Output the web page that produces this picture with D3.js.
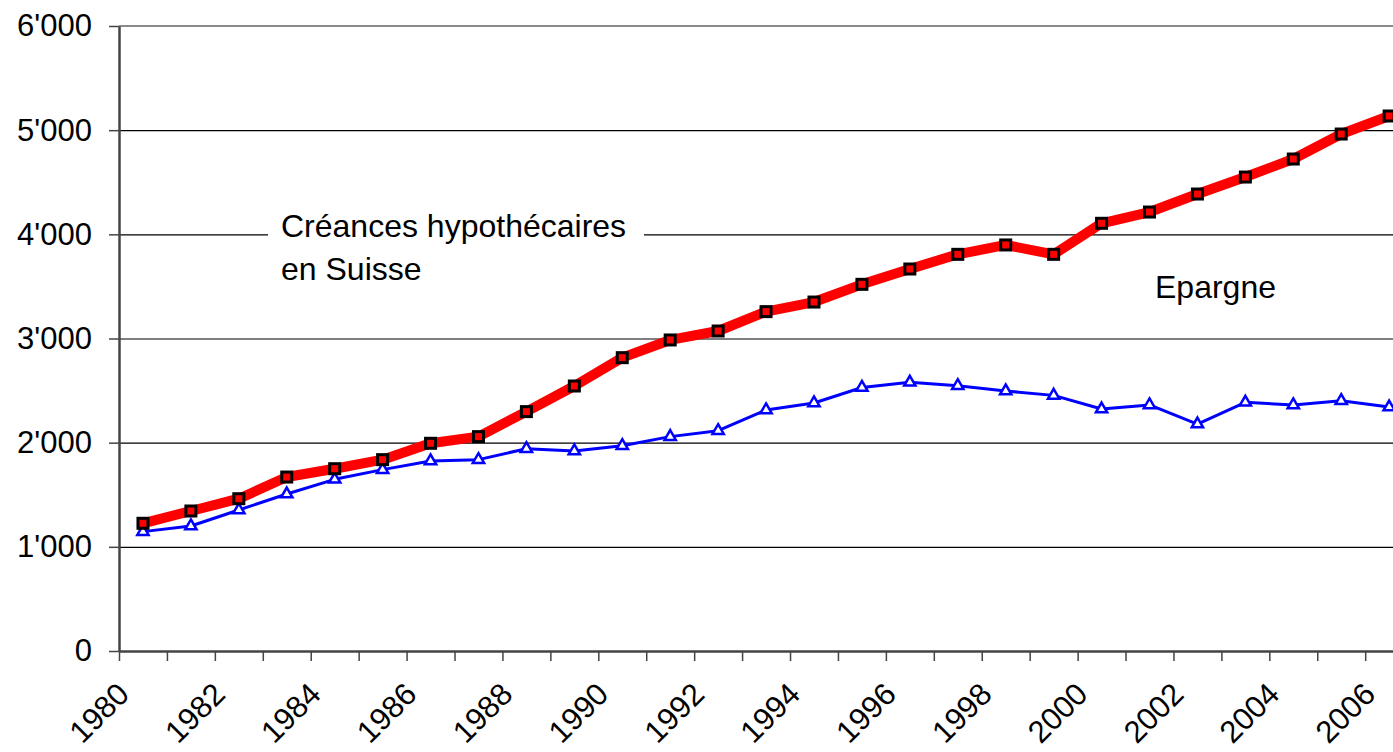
<!DOCTYPE html>
<html>
<head>
<meta charset="utf-8">
<script src="https://cdn.jsdelivr.net/npm/d3@7/dist/d3.min.js"></script>
<style>
  html, body { margin: 0; padding: 0; background: #fff; overflow: hidden; }
  svg { display: block; }
  text { font-family: "Liberation Sans", Arial, sans-serif; fill: #000; }
</style>
</head>
<body>
<svg id="chart" width="1393" height="752"></svg>
<script>
const years = [1980,1981,1982,1983,1984,1985,1986,1987,1988,1989,1990,1991,1992,1993,1994,1995,1996,1997,1998,1999,2000,2001,2002,2003,2004,2005,2006];
const creances = [1226,1344,1462,1670,1750,1837,1994,2058,2298,2544,2816,2986,3072,3258,3350,3520,3667,3808,3898,3808,4106,4214,4387,4550,4723,4963,5136];
const epargne = [1146,1200,1354,1507,1648,1741,1824,1837,1942,1920,1971,2058,2115,2314,2381,2530,2579,2547,2496,2454,2323,2362,2179,2387,2362,2403,2342];
const yTicks = [0,1000,2000,3000,4000,5000,6000];
const xLabelYears = [1980,1982,1984,1986,1988,1990,1992,1994,1996,1998,2000,2002,2004,2006];
const labelCreances = ["Créances hypothécaires", "en Suisse"];
const labelEpargne = "Epargne";

(function () {
const svg = d3.select("#chart");
const mLeft = 119, mTop = 26, mBottom = 651;
const band = 47.93;
const mRight = mLeft + band * years.length;

const x = d3.scaleBand().domain(years).range([mLeft, mRight]).padding(0);
const xEdge = d3.scaleLinear().domain([1980, 1980 + years.length]).range([mLeft, mRight]);
const y = d3.scaleLinear().domain([0, 6000]).range([mBottom, mTop]);
const cx = d => x(d) + x.bandwidth() / 2;

const fmt = d3.formatLocale({decimal: ".", thousands: "'", grouping: [3], currency: ["", ""]}).format(",");

// gridlines
const grid = svg.append("g").attr("transform", `translate(${mLeft},0)`)
  .call(d3.axisLeft(y).tickValues(yTicks.filter(v => v > 0 && v < 6000)).tickSize(-(mRight - mLeft)).tickFormat(""));
grid.select(".domain").remove();
grid.selectAll("line").attr("stroke", "#000").attr("stroke-width", 1.2);

// top border line
svg.append("line").attr("x1", mLeft).attr("x2", mRight).attr("y1", y(6000)).attr("y2", y(6000))
  .attr("stroke", "#8a8a8a").attr("stroke-width", 2);

// label background box for Créances (covers gridline)
svg.append("rect").attr("x", 268).attr("y", 205).attr("width", 376).attr("height", 88).attr("fill", "#fff");

// y axis
const yAxis = svg.append("g").attr("transform", `translate(${mLeft},0)`)
  .call(d3.axisLeft(y).tickValues(yTicks).tickFormat(fmt).tickSize(10).tickPadding(17).tickSizeOuter(0));
yAxis.select(".domain").attr("stroke", "#444").attr("stroke-width", 2.5);
yAxis.selectAll("line").attr("stroke", "#444").attr("stroke-width", 1.5);
yAxis.selectAll("text").style("font-size", "31px").style("font-family", "'Liberation Sans', Arial, sans-serif").attr("fill", "#000");

// x axis
const xAxis = svg.append("g").attr("transform", `translate(0,${mBottom})`)
  .call(d3.axisBottom(xEdge).tickValues(d3.range(1980, 1980 + years.length + 1)).tickFormat("").tickSize(10).tickSizeOuter(0));
xAxis.select(".domain").attr("stroke", "#444").attr("stroke-width", 2.5);
xAxis.selectAll("line").attr("stroke", "#444").attr("stroke-width", 1.5);

// x labels
svg.append("g").selectAll("text").data(xLabelYears).join("text")
  .attr("transform", d => `translate(${cx(d) - 12},${mBottom + 45}) rotate(-45)`)
  .attr("text-anchor", "end")
  .style("font-size", "31px")
  .text(d => d);

// Epargne line
const line = d3.line().x((d, i) => cx(years[i])).y(d => y(d));
svg.append("path").datum(epargne).attr("d", line)
  .attr("fill", "none").attr("stroke", "#0000ff").attr("stroke-width", 3).attr("stroke-linejoin", "round");
const tri = d3.symbol().type(d3.symbolTriangle).size(55);
svg.append("g").selectAll("path").data(epargne).join("path")
  .attr("d", tri)
  .attr("transform", (d, i) => `translate(${cx(years[i])},${y(d)})`)
  .attr("fill", "#fff").attr("stroke", "#0000ff").attr("stroke-width", 2.5);

// Créances line
svg.append("path").datum(creances).attr("d", line)
  .attr("fill", "none").attr("stroke", "#ff0000").attr("stroke-width", 10).attr("stroke-linejoin", "round");
svg.append("g").selectAll("rect").data(creances).join("rect")
  .attr("x", (d, i) => cx(years[i]) - 5).attr("y", d => y(d) - 5)
  .attr("width", 10).attr("height", 10)
  .attr("fill", "#ff0000").attr("stroke", "#000").attr("stroke-width", 3);

// annotations
const ann = svg.append("text").attr("x", 281).attr("y", 237).style("font-size", "32px");
ann.selectAll("tspan").data(labelCreances).join("tspan")
  .attr("x", 281).attr("dy", (d, i) => i === 0 ? 0 : 43).text(d => d);
svg.append("text").attr("x", 1155).attr("y", 298).style("font-size", "32px").text(labelEpargne);
})();
</script>
</body>
</html>
